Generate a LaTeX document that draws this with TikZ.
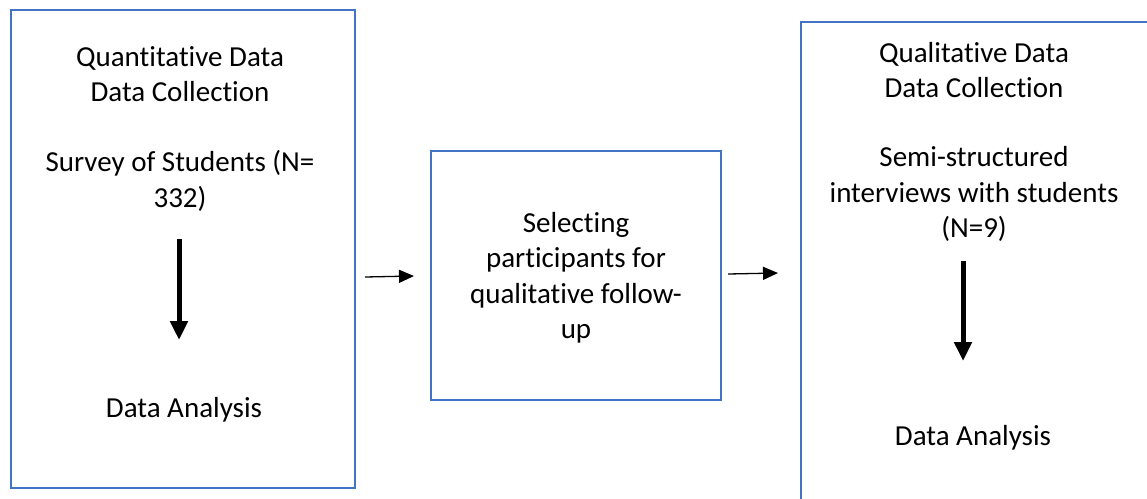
\documentclass[tikz,border=0pt]{standalone}
\usepackage{fontspec}
\setmainfont{Carlito}[Ligatures=NoCommon]
\usetikzlibrary{arrows.meta}
\definecolor{boxblue}{HTML}{4472C4}
\tikzset{
  stagebox/.style={draw=boxblue, line width=2.6pt},
  label/.style={inner sep=0pt, align=center, font=\fontsize{29}{35.5}\selectfont},
  flowarrow/.style={line width=1.3pt, -{Triangle[length=15pt, width=13pt]}},
  innerarrow/.style={line width=5pt, -{Triangle[length=19pt, width=17pt]}},
}
\begin{document}
\begin{tikzpicture}[x=1pt, y=-1pt]
  \useasboundingbox (0,0) rectangle (1147,498);
  \clip (0,0) rectangle (1147,498);

  % three stages
  \draw[stagebox] (11,10) rectangle (355,488);
  \draw[stagebox] (431,151) rectangle (721,400);
  \draw[stagebox] (801,22) rectangle (1160,520);

  % quantitative stage
  \node[label] (qtitle) at (180,74) {Quantitative Data\\Data Collection};
  \node[label] (survey) at (180,181) {Survey of Students (N=\\332)};
  \node[label] (qanalysis) at (184,410) {Data Analysis};
  \coordinate (qa1) at (179,239);
  \coordinate (qa2) at (179,340);
  \draw[innerarrow] (qa1) -- (qa2);

  % selection stage
  \node[label] (select) at (576,278) {Selecting\\participants for\\qualitative follow-\\up};

  % qualitative stage
  \node[label] (ltitle) at (974,70) {Qualitative Data\\Data Collection};
  \node[label] (interviews) at (974,194) {Semi-structured\\interviews with students\\(N=9)};
  \node[label] (lanalysis) at (973,438) {Data Analysis};
  \coordinate (la1) at (963,261);
  \coordinate (la2) at (963,361);
  \draw[innerarrow] (la1) -- (la2);

  % links between stages
  \coordinate (f1a) at (365,277);
  \coordinate (f1b) at (414,276);
  \coordinate (f2a) at (728,274);
  \coordinate (f2b) at (778,273);
  \draw[flowarrow] (f1a) -- (f1b);
  \draw[flowarrow] (f2a) -- (f2b);
\end{tikzpicture}
\end{document}
